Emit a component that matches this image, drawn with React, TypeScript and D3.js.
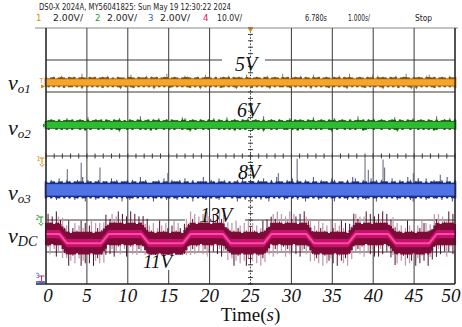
import React from "react";
import * as d3 from "d3";

// ---------- data ----------
const timeDomain = [0, 50];
const timeTicks = [0, 5, 10, 15, 20, 25, 30, 35, 40, 45, 50];
const header1 = "DS0-X 2024A, MY56041825: Sun May 19 12:30:22 2024";
const headerScales = ["2.00V/", "2.00V/", "2.00V/", "10.0V/"];
const headerRight = ["6.780s", "1.000s/", "Stop"];

const vo1Level = 5;
const vo2Level = 6;
const vo3Level = 8;
const vdcHigh = 13;
const vdcLow = 11;
const vdcSwitchTimes = [2.1, 7.2, 12.1, 17.2, 22.1, 27.1, 32.3, 37.4, 42.3, 47.3];

const vo3SpikeTimes = [2.6, 4.3, 6.6, 14.9, 28.4, 30.7, 39.0, 39.4, 41.2, 41.4, 44.9, 45.5, 48.2];
const vo3SpikeHeights = [1.3, 1.7, 1.4, 1.05, 1.05, 1.95, 1.95, 1.25, 1.9, 1.4, 1.05, 0.75, 0.95];

// noise envelope read as digits (deviation from trace centre, in units)
const vo1NoiseUp = "5456457546564595465645657454655468546557465645694565457654564586546456574656548545654674565495645657465485645654657465954565465847565465745695465654785645654756";
const vo1NoiseDn = "4545454645545474545454645454574545645454547454546545454564547454545465454574545464545457454554564545454745454564545457454545645454574545464545747454545645454547454";
const vo2NoiseUp = "4565464575645654845656465465745465469456465745646554874565465465746548456546574565494565465457465654658456546574565464595646574565456846546574565465494565746546";
const vo2NoiseDn = "4544545454544546454454544545744545445454645445454544545745445454445454546454544545474454544554546454454545445745445454544654454454454574544544545454654454545";
const vo3NoiseUp = "6576586576567695765675665867566757659675566758657667586575669657658675656759657657686575966576857657659657665875665759865765867576658657659756765856766759657568";
const vo3NoiseDn = "6565765656576568565765657656585676565756586565765675656585656756567565565865756565756856565765657568656576565685656756575676568565656576565786565765665756586";
const vdcNoiseUp = "6857497685794685796857948685794685796847596847586975846975864795864785968475869748579684758596748596857469584786958475968748597684759685749685796847598674795847685958479685746975847698857496847569584";
const vdcNoiseDn = "7584697485697584697858497685974869758469758496748586975486975847968574968574869757486975846975847968748596857496847596874859768495768495876849578695847685947869596847586984759687496857496849685797586975";

const traceSubs = ["o1", "o2", "o3", "DC"];
const levelLabels = ["5V", "6V", "8V", "13V", "11V"];

const digits = (s: string) => s.split("").map(Number);

export default function App() {
  const W = 462, H = 327;
  const x = d3.scaleLinear().domain(timeDomain).range([46, 455]);
  const yDiv = d3.scaleLinear().domain([0, 8]).range([284, 28]);
  const chY = (zeroDiv: number, vpd: number) => (v: number) => yDiv(zeroDiv + v / vpd);
  const y1 = chY(3.8, 2);
  const y2 = chY(1.97, 2);
  const y3 = chY(-1.06, 2);
  const y4 = chY(-0.295, 7);

  // vDC step centre
  const ramp = 0.45;
  const bpT: number[] = [0];
  const bpV: number[] = [vdcHigh];
  let lvl = vdcHigh;
  vdcSwitchTimes.forEach((s) => {
    bpT.push(s - ramp); bpV.push(lvl);
    lvl = lvl === vdcHigh ? vdcLow : vdcHigh;
    bpT.push(s + ramp); bpV.push(lvl);
  });
  bpT.push(50); bpV.push(lvl);
  const vdcCenter = d3.scaleLinear().domain(bpT).range(bpV);

  const noisePath = (
    upS: string, dnS: string, center: (t: number) => number,
    yf: (v: number) => number, unit: number, cap: number, filter?: (i: number) => boolean
  ) => {
    const up = digits(upS), dn = digits(dnS);
    const n = Math.min(up.length, dn.length);
    let d = "";
    for (let i = 0; i < n; i++) {
      if (filter && !filter(i)) continue;
      const t = (timeDomain[1] * i) / (n - 1);
      const c = center(t);
      const u = Math.min(up[i], cap) * unit;
      const w = Math.min(dn[i], cap) * unit;
      d += `M${x(t).toFixed(2)},${yf(c + u).toFixed(2)}V${yf(c - w).toFixed(2)}`;
    }
    return d;
  };

  const band = (yf: (v: number) => number, level: number, half: number, fill: string) => (
    <rect x={x(0)} width={x(50) - x(0)} y={yf(level + half)} height={yf(level - half) - yf(level + half)} fill={fill} />
  );

  const tSamples = d3.range(0, 50.001, 0.1);
  const vdcBody = d3.area<number>()
    .x((t) => x(t))
    .y0((t) => y4(vdcCenter(t) - 0.9))
    .y1((t) => y4(vdcCenter(t) + 0.9));
  const vdcLine = d3.line<number>().x((t) => x(t)).y((t) => y4(vdcCenter(t)));

  const serif = "'Liberation Serif', 'Times New Roman', Times, serif";
  const narrow = "'Liberation Sans Narrow', 'DejaVu Sans Condensed', 'Arial Narrow', sans-serif";
  const gridC = "#3a3a3a";

  const hLines = [1, 2, 3, 5, 6, 7];
  const minorX = d3.range(0, 50.001, 1);
  const minorY = d3.range(0, 8.001, 0.2);

  const leftLabelY = [90, 135, 200, 243];
  const k = 0.06;
  const k3 = 0.09;
  const kd = 0.55;

  return (
    <svg width={W} height={H} style={{ position: "absolute", left: 0, top: 0, background: "#fff" }}>
      <rect width={W} height={H} fill="#fff" />
      {/* header */}
      <text x={39} y={9.5} fontFamily={narrow} fontSize={8.5} fill="#222" textLength={192} lengthAdjust="spacingAndGlyphs">{header1}</text>
      {[{ n: "1", c: "#e08a00", x: 36 }, { n: "2", c: "#1f9a1f", x: 95 }, { n: "3", c: "#3355dd", x: 148 }, { n: "4", c: "#d8204f", x: 203 }].map((h, i) => (
        <g key={h.n}>
          <text x={h.x} y={20.5} fontFamily={narrow} fontSize={9.5} fill={h.c}>{h.n}</text>
          <text x={[53, 107, 160, 217][i]} y={20.5} fontFamily={narrow} fontSize={9.5} fill="#222" textLength={i === 3 ? 25 : 30} lengthAdjust="spacingAndGlyphs">{headerScales[i]}</text>
        </g>
      ))}
      {headerRight.map((s, i) => (
        <text key={s} x={[305, 348, 415][i]} y={20.5} fontFamily={narrow} fontSize={9.5} fill="#222" textLength={[22, 22, 17][i]} lengthAdjust="spacingAndGlyphs">{s}</text>
      ))}
      <line x1={35} x2={458} y1={28} y2={28} stroke="#888" strokeWidth={1} />

      {/* grid */}
      {timeTicks.filter((t) => t !== 25).map((t) => (
        <line key={t} x1={x(t)} x2={x(t)} y1={28} y2={284} stroke={gridC} strokeWidth={1} />
      ))}
      {hLines.map((d) => (
        <line key={d} x1={x(0)} x2={x(50)} y1={yDiv(d)} y2={yDiv(d)} stroke={gridC} strokeWidth={1} />
      ))}
      <line x1={x(0)} x2={x(50)} y1={yDiv(4)} y2={yDiv(4)} stroke={gridC} strokeWidth={1} />
      {minorX.map((t) => (
        <line key={"mx" + t} x1={x(t)} x2={x(t)} y1={yDiv(4) - 2.5} y2={yDiv(4) + 2.5} stroke={gridC} strokeWidth={1} />
      ))}
      <line x1={x(25)} x2={x(25)} y1={28} y2={284} stroke={gridC} strokeWidth={1} strokeDasharray="1.5,1.6" />
      {minorY.map((d) => (
        <line key={"my" + d} x1={x(25) - 2.5} x2={x(25) + 2.5} y1={yDiv(d)} y2={yDiv(d)} stroke={gridC} strokeWidth={1} />
      ))}
      {/* label gaps in grid */}
      <rect x={222} y={58} width={43} height={6} fill="#fff" />
      <rect x={185} y={217} width={60} height={6} fill="#fff" />

      {/* vo1 */}
      <path d={noisePath(vo1NoiseUp, vo1NoiseDn, () => vo1Level, y1, k, 9)} stroke="#8c6a3c" strokeWidth={0.9} />
      <path d={noisePath(vo1NoiseUp, vo1NoiseDn, () => vo1Level, y1, k, 5.5)} stroke="#8a5512" strokeWidth={2.6} />
      {band(y1, vo1Level, 0.2, "#f5a52a")}
      {/* vo2 */}
      <path d={noisePath(vo2NoiseUp, vo2NoiseDn, () => vo2Level, y2, k, 9)} stroke="#2a5a2a" strokeWidth={0.9} />
      <path d={noisePath(vo2NoiseUp, vo2NoiseDn, () => vo2Level, y2, k, 5.5)} stroke="#0d5e0d" strokeWidth={2.6} />
      {band(y2, vo2Level, 0.2, "#2fbb2f")}
      {/* vo3 */}
      {vo3SpikeTimes.map((t, i) => (
        <line key={"sp" + i} x1={x(t)} x2={x(t)} y1={y3(vo3Level + vo3SpikeHeights[i])} y2={y3(vo3Level)} stroke="#5a5f7a" strokeWidth={1} />
      ))}
      <path d={noisePath(vo3NoiseUp, vo3NoiseDn, () => vo3Level, y3, k3, 9)} stroke="#2a3470" strokeWidth={0.9} />
      <path d={noisePath(vo3NoiseUp, vo3NoiseDn, () => vo3Level, y3, k3, 5.8)} stroke="#1c2c80" strokeWidth={2.6} />
      {band(y3, vo3Level, 0.36, "#4f73e6")}
      {/* vDC */}
      <path d={noisePath(vdcNoiseUp, vdcNoiseDn, vdcCenter, y4, kd, 9, (i) => i % 2 === 0)} stroke="#c49aab" strokeWidth={1.3} />
      <path d={noisePath(vdcNoiseUp, vdcNoiseDn, vdcCenter, y4, kd, 9, (i) => i % 2 === 1)} stroke="#4f0d26" strokeWidth={1} />
      <path d={noisePath(vdcNoiseUp, vdcNoiseDn, vdcCenter, y4, kd, 4.5)} stroke="#7e0a38" strokeWidth={2.1} />
      <path d={vdcBody(tSamples) || ""} fill="#c4126a" />
      <path d={vdcLine(tSamples) || ""} fill="none" stroke="#ff4aa6" strokeWidth={2} />

      {/* 11V box */}
      <rect x={129} y={255} width={78} height={15} fill="#fff" />

      {/* borders and axis */}
      <line x1={x(0)} x2={x(0)} y1={28} y2={284} stroke="#222" strokeWidth={1.2} />
      <line x1={x(50)} x2={x(50)} y1={28} y2={284} stroke="#222" strokeWidth={1.2} />
      <line x1={36} x2={x(50)} y1={284} y2={284} stroke="#222" strokeWidth={1.6} />

      {/* markers */}
      <path d={`M${x(25) - 2.5},28.5 h5 l-2.5,4 z`} fill="#e08a00" />
      <text x={39.5} y={83} fontFamily={narrow} fontSize={7} fill="#e08a00">T</text>
      <path d="M41,84.5 l4,2 l-4,2 z" fill="#e08a00" />
      <path d="M43,123.5 l3,2 l-3,2 z" fill="#1f9a1f" />
      <text x={36.5} y={161} fontFamily={narrow} fontSize={7} fill="#e08a00">1</text>
      <path d="M39.5,158 h5 M42,158 v6 M39.8,164 l2.2,2.5 l2.2,-2.5" stroke="#e08a00" strokeWidth={1} fill="none" />
      <text x={35.5} y={220} fontFamily={narrow} fontSize={7} fill="#1f9a1f">2</text>
      <path d="M38.5,217 h5 M41,217 v6 M38.8,223 l2.2,2.5 l2.2,-2.5" stroke="#1f9a1f" strokeWidth={1} fill="none" />
      <text x={35.5} y={278} fontFamily={narrow} fontSize={7} fill="#3355dd">3</text>
      <path d="M38.5,276 h6 M41.5,276 v5 M39,281 l2.5,2 l2.5,-2" stroke="#d8204f" strokeWidth={1} fill="none" />
      <path d="M36,282 h9" stroke="#3355dd" strokeWidth={1.5} />

      {/* left trace labels */}
      {traceSubs.map((s, i) => (
        <text key={s} x={8} y={leftLabelY[i]} fontFamily={serif} fontStyle="italic" fontSize={22} fill="#111">
          v<tspan fontSize={s === "DC" ? 14 : 13} dy={3}>{s}</tspan>
        </text>
      ))}

      {/* level labels */}
      {levelLabels.map((s, i) => (
        <text key={s} x={[235, 237, 238, 200, 143][i]} y={[71, 117, 179, 222, 268][i]} fontFamily={serif} fontStyle="italic" fontSize={i === 4 ? 19 : 20} fill="#111">{s}</text>
      ))}

      {/* tick labels */}
      {timeTicks.map((t) => (
        <text key={"tl" + t} x={x(t) + (t === 0 ? 2 : t === 50 ? -4 : 0)} y={302} textAnchor="middle" fontFamily={serif} fontStyle="italic" fontSize={19} fill="#111">{t}</text>
      ))}
      <text x={x(25)} y={321} textAnchor="middle" fontFamily={serif} fontSize={19} fill="#111">
        Time(<tspan fontStyle="italic">s</tspan>)
      </text>
    </svg>
  );
}
